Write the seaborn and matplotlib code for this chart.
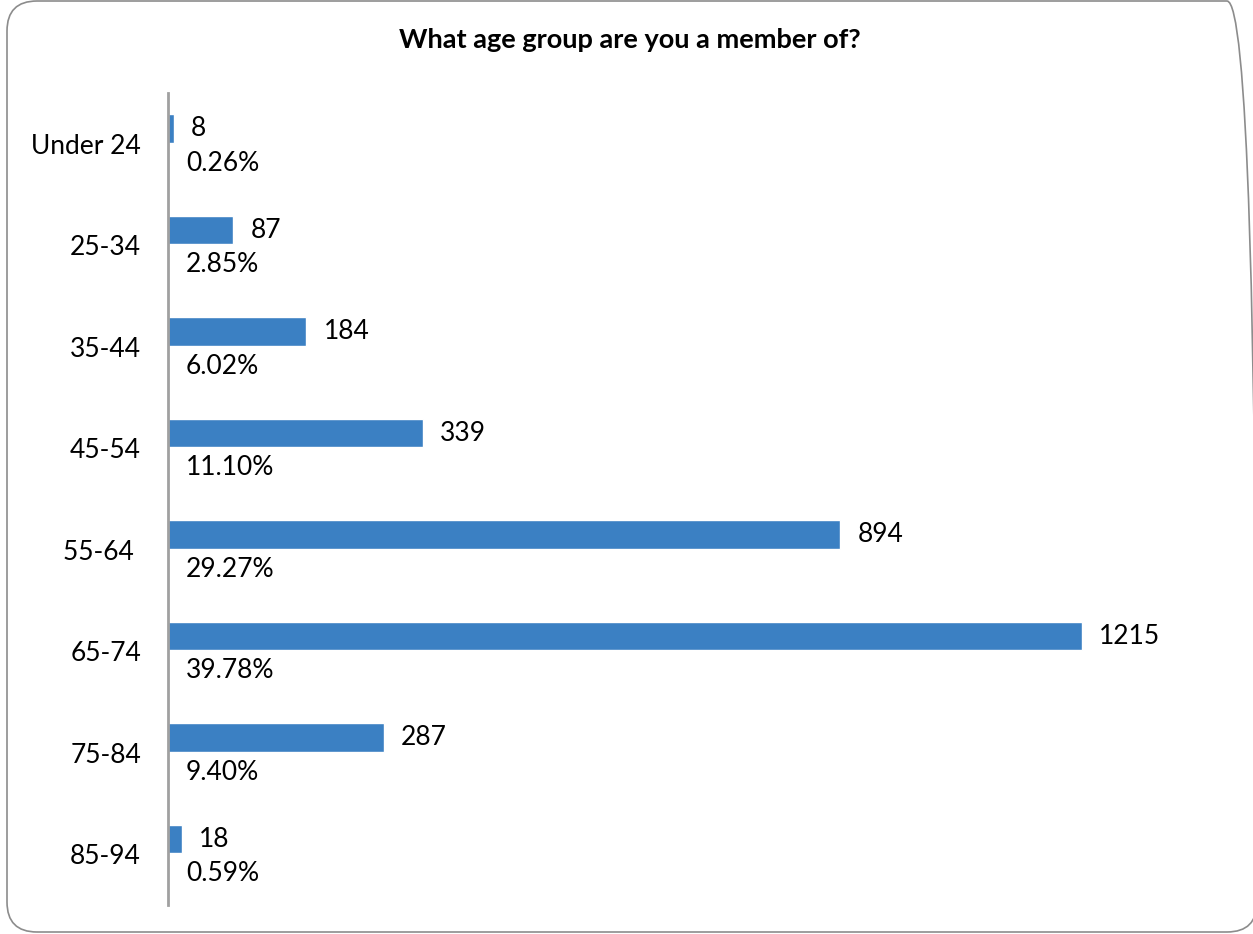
import matplotlib
matplotlib.use("Agg")
import matplotlib.pyplot as plt
import seaborn as sns
import pandas as pd
from matplotlib.patches import FancyBboxPatch

# Survey responses by age group
age_groups = ["Under 24", "25-34", "35-44", "45-54", "55-64 ", "65-74", "75-84", "85-94"]
counts = [8, 87, 184, 339, 894, 1215, 287, 18]
shares = ["0.26%", "2.85%", "6.02%", "11.10%", "29.27%", "39.78%", "9.40%", "0.59%"]
title = "What age group are you a member of?"

sns.set_theme(style="white")
plt.rcParams["font.family"] = ["Lato", "DejaVu Sans"]

W, H = 1253, 934
PX = 72 / 100  # points per pixel at dpi 100
fig = plt.figure(figsize=(W / 100, H / 100), dpi=100)
ax = fig.add_axes([168 / W, 1 - 905 / H, (1221 - 168) / W, 812 / H])

df = pd.DataFrame({"group": age_groups, "count": counts})
sns.barplot(data=df, y="group", x="count", orient="h", color="#3B80C3",
            width=0.28, saturation=1, ax=ax)
# bars sit in the upper part of each category band, share label below
BAR_SHIFT = 0.15
for p in ax.patches:
    p.set_y(p.get_y() - BAR_SHIFT)

ax.set_xlim(0, 1400)
ax.set_ylim(7.5, -0.5)
ax.set_xlabel("")
ax.set_ylabel("")
ax.set_xticks([])
for s in ["top", "right", "bottom"]:
    ax.spines[s].set_visible(False)
ax.spines["left"].set_color("#A0A0A0")
ax.spines["left"].set_linewidth(2)
ax.tick_params(axis="y", length=0, pad=27 * PX, labelsize=19, labelcolor="black")

for i, (c, s) in enumerate(zip(counts, shares)):
    ax.annotate(str(c), xy=(c, i - BAR_SHIFT), xytext=(17 * PX, 0),
                textcoords="offset points", ha="left", va="center",
                fontsize=19, color="black")
    ax.annotate(s, xy=(0, i + 0.19), xytext=(18 * PX, 0),
                textcoords="offset points", ha="left", va="center",
                fontsize=19, color="black")

fig.text(630 / W, 1 - 40 / H, title, ha="center", va="center",
         fontsize=19.5, fontweight="bold", color="black")

frame = FancyBboxPatch((0.07, 0.02), 12.50, 9.31,
                       boxstyle="round,pad=0,rounding_size=0.3",
                       transform=fig.dpi_scale_trans, facecolor="none",
                       edgecolor="#8C8C8C", linewidth=1.2, clip_on=False)
fig.patches.append(frame)

fig.savefig("out.png", dpi=100)
